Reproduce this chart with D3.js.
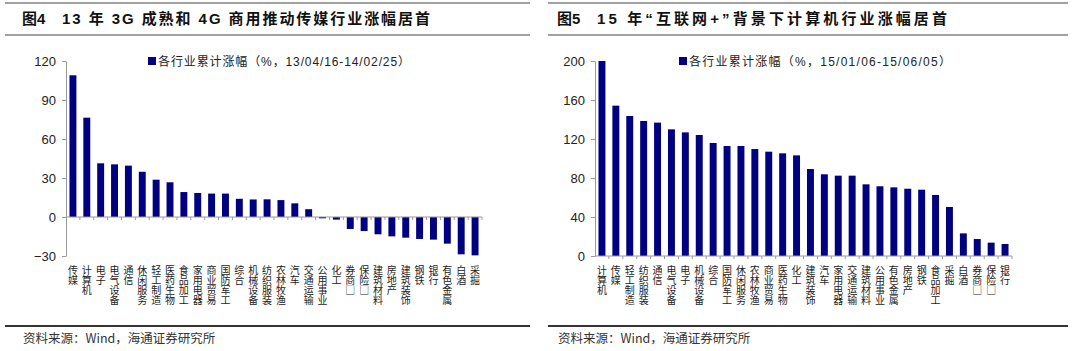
<!DOCTYPE html>
<html>
<head>
<meta charset="utf-8">
<script src="https://cdn.jsdelivr.net/npm/d3@7"></script>
<style>
body { margin: 0; background: #fff; }
svg { display: block; }
</style>
</head>
<body>
<svg id="chart" width="1080" height="351"></svg>
<script>
// figure 4 data
const leftCats = ["传媒","计算机","电子","电气设备","通信","休闲服务","轻工制造","医药生物","食品加工","家用电器",
  "商业贸易","国防军工","综合","机械设备","纺织服装","农林牧渔","汽车","交通运输","公用事业","化工",
  "券商□","保险□","建筑材料","房地产","建筑装饰","钢铁","银行","有色金属","白酒","采掘"]
const leftValues = [109,76.4,41.3,40.5,39.5,34.8,28.7,26.7,19.2,18.5,
  18,18,14,13.5,13.6,13,10.5,6,-1,-2,
  -9.2,-10.8,-13.3,-14.9,-15.9,-16.9,-17.4,-20.5,-28.7,-29.5]
const leftTicks = [-30,0,30,60,90,120]

// figure 5 data
const rightCats = ["计算机","传媒","轻工制造","纺织服装","通信","电气设备","电子","机械设备","综合","国防军工",
  "休闲服务","农林牧渔","商业贸易","医药生物","化工","建筑装饰","汽车","家用电器","交通运输","建筑材料",
  "公用事业","有色金属","房地产","钢铁","食品加工","采掘","白酒","券商□","保险□","银行"]
const rightValues = [200,154.2,143.6,138.5,136.8,129.9,126.8,124.1,115.9,112.8,
  112.8,109.7,107,105.3,103.2,89.2,83.8,82.4,82.4,73.5,
  71.5,70.4,69,68,62.6,50.3,23.2,17.4,13.7,12.3]
const rightTicks = [0,40,80,120,160,200]

const cjk = "'Noto Sans CJK SC', sans-serif"
const latin = "'Liberation Sans', 'Noto Sans CJK SC', sans-serif"
const barColor = "#000080"

const svg = d3.select("#chart")

function panel(o) {
  const g = svg.append("g")

  // header and footer rules
  g.append("line").attr("x1", o.left).attr("x2", o.right).attr("y1", 3).attr("y2", 3)
    .attr("stroke", "#444").attr("stroke-width", 1.2)
  g.append("line").attr("x1", o.left).attr("x2", o.right).attr("y1", 35).attr("y2", 35)
    .attr("stroke", "#444").attr("stroke-width", 1.2)
  g.append("line").attr("x1", o.left).attr("x2", o.right).attr("y1", 326).attr("y2", 326)
    .attr("stroke", "#333").attr("stroke-width", 2)

  // title
  g.append("text").attr("x", o.figX).attr("y", 23.5)
    .style("font-family", latin).style("font-weight", "bold").style("font-size", "15px").style("fill", "#111")
    .text(o.fig)
  g.append("text").attr("x", o.titleX).attr("y", 23.5)
    .attr("textLength", o.titleLen).attr("lengthAdjust", "spacing")
    .style("font-family", latin).style("font-weight", "bold").style("font-size", "15px").style("fill", "#111")
    .text(o.title)

  // source
  g.append("text").attr("x", o.figX + 1).attr("y", 343)
    .style("font-family", cjk).style("font-size", "12.5px").style("fill", "#333")
    .text("资料来源：Wind，海通证券研究所")

  const x = d3.scaleBand()
    .domain(o.cats)
    .range([o.x0, o.x1])
    .paddingInner(0.5)
    .paddingOuter(0.25)

  const y = d3.scaleLinear()
    .domain([o.ticks[0], o.ticks[o.ticks.length - 1]])
    .range([o.yBottom, 61])

  // y axis
  const ya = g.append("g")
    .attr("transform", `translate(${o.x0},0)`)
    .call(d3.axisLeft(y).tickValues(o.ticks).tickSize(4).tickSizeOuter(0).tickPadding(6))
  ya.select(".domain").attr("stroke", "#999")
  ya.selectAll(".tick line").attr("stroke", "#999")
  ya.selectAll(".tick text")
    .style("font-family", latin).style("font-size", "13px").style("fill", "#222")

  // bars
  g.selectAll("rect.bar")
    .data(o.values)
    .join("rect")
    .attr("class", "bar")
    .attr("x", (d, i) => x(o.cats[i]))
    .attr("width", x.bandwidth())
    .attr("y", d => Math.min(y(d), y(0)))
    .attr("height", d => Math.abs(y(d) - y(0)))
    .attr("fill", barColor)

  // x axis line at zero with ticks between categories
  const y0 = y(0)
  g.append("line").attr("x1", o.x0).attr("x2", o.x1).attr("y1", y0).attr("y2", y0)
    .attr("stroke", "#999")
  const gap = (x.step() - x.bandwidth()) / 2
  const bounds = o.cats.map(c => x(c) - gap).concat([x(o.cats[o.cats.length - 1]) + x.bandwidth() + gap])
  g.selectAll("line.xt")
    .data(bounds.slice(1))
    .join("line")
    .attr("class", "xt")
    .attr("x1", d => d).attr("x2", d => d)
    .attr("y1", y0).attr("y2", y0 + 3)
    .attr("stroke", "#999")

  // vertical category labels, one upright column per category
  g.selectAll("text.cat")
    .data(o.cats)
    .join("text")
    .attr("class", "cat")
    .attr("x", d => x(d) + x.bandwidth() / 2)
    .attr("y", 265)
    .style("writing-mode", "vertical-rl")
    .style("text-orientation", "upright")
    .style("font-family", cjk).style("font-size", "10px").style("fill", "#222")
    .text(d => d)

  // legend
  g.append("rect").attr("x", o.legendX).attr("y", 57).attr("width", 8).attr("height", 8).attr("fill", barColor)
  g.append("text").attr("x", o.legendX + 10).attr("y", 65.5)
    .attr("textLength", o.legendLen).attr("lengthAdjust", "spacing")
    .style("font-family", latin).style("font-size", "12px").style("fill", "#222")
    .text(o.legend)
}

panel({
  left: 5, right: 530, figX: 22,
  fig: "图4", title: "13 年 3G 成熟和 4G 商用推动传媒行业涨幅居首", titleX: 62, titleLen: 368,
  cats: leftCats, values: leftValues, ticks: leftTicks,
  x0: 66, x1: 482, yBottom: 256,
  legendX: 148, legendLen: 252,
  legend: "各行业累计涨幅（%，13/04/16-14/02/25）"
})

panel({
  left: 548, right: 1068, figX: 557,
  fig: "图5", title: "15 年“互联网+”背景下计算机行业涨幅居首", titleX: 597, titleLen: 350,
  cats: rightCats, values: rightValues, ticks: rightTicks,
  x0: 595, x1: 1012, yBottom: 256,
  legendX: 679, legendLen: 262,
  legend: "各行业累计涨幅（%，15/01/06-15/06/05）"
})
</script>
</body>
</html>
